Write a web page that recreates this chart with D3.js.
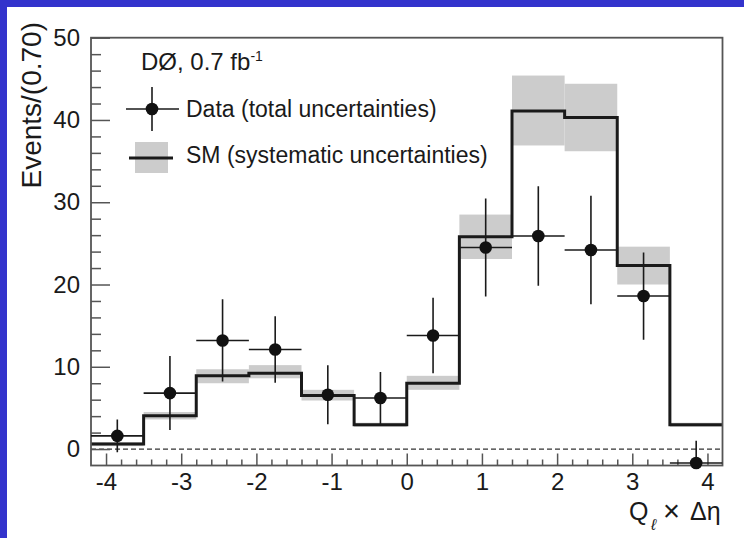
<!DOCTYPE html>
<html>
<head>
<meta charset="utf-8">
<script src="https://cdn.jsdelivr.net/npm/d3@7"></script>
<style>
  html, body { margin: 0; padding: 0; background: #fff; }
  svg { display: block; }
  text { font-family: "Liberation Sans", Arial, Helvetica, sans-serif; fill: #1a1a1a; }
</style>
</head>
<body>
<svg id="chart" width="744" height="538"></svg>
<script>
// Bin centres of Q_l x Δη (bin width 0.70, from -4.2 to 4.2)
const binCenters = [-3.85, -3.15, -2.45, -1.75, -1.05, -0.35, 0.35, 1.05, 1.75, 2.45, 3.15, 3.85];
const binWidth = 0.7;

// SM prediction and its systematic band
const smValues = [0.6, 4.05, 8.9, 9.2, 6.5, 2.95, 8.0, 25.8, 41.1, 40.3, 22.3, 2.95];
const smLow    = [0.35, 3.6, 8.0, 8.6, 5.9, 2.7, 7.2, 23.1, 36.9, 36.2, 20.0, 2.7];
const smHigh   = [0.85, 4.5, 9.7, 10.2, 7.2, 3.2, 8.9, 28.5, 45.4, 44.4, 24.6, 3.2];

// Data with total uncertainties
const dataValues = [1.6, 6.8, 13.2, 12.1, 6.6, 6.2, 13.8, 24.5, 25.9, 24.2, 18.6, -1.7];
const dataErrors = [2.0, 4.5, 5.0, 4.05, 3.6, 3.15, 4.6, 5.95, 6.05, 6.6, 5.3, 2.7];

// Axis ticks
const xMajorTicks = [-4, -3, -2, -1, 0, 1, 2, 3, 4];
const yMajorTicks = [0, 10, 20, 30, 40, 50];

const svg = d3.select("#chart");

// Page frame strips
svg.append("rect").attr("x", 0).attr("y", 0).attr("width", 744).attr("height", 7).attr("fill", "#3333cc");
svg.append("rect").attr("x", 0).attr("y", 0).attr("width", 7).attr("height", 538).attr("fill", "#3333cc");

const plotL = 91, plotR = 722.5, plotT = 37.7, plotB = 465.5;
const x = d3.scaleLinear().domain([-4.2, 4.2]).range([plotL, plotR]);
const y = d3.scaleLinear().domain([-2, 50]).range([plotB, plotT]);

svg.append("defs").append("clipPath").attr("id", "plotClip")
  .append("rect").attr("x", plotL).attr("y", plotT).attr("width", plotR - plotL).attr("height", plotB - plotT);

const bins = binCenters.map((c, i) => ({
  x0: c - binWidth / 2, x1: c + binWidth / 2, c,
  sm: smValues[i], lo: smLow[i], hi: smHigh[i],
  d: dataValues[i], e: dataErrors[i]
}));

// Systematic uncertainty band
svg.append("g").selectAll("rect").data(bins).join("rect")
  .attr("x", b => x(b.x0)).attr("width", b => x(b.x1) - x(b.x0))
  .attr("y", b => y(b.hi)).attr("height", b => y(b.lo) - y(b.hi))
  .attr("fill", "#cccccc");

// SM histogram outline
const stepPts = [];
bins.forEach(b => { stepPts.push([b.x0, b.sm]); stepPts.push([b.x1, b.sm]); });
svg.append("path")
  .attr("d", d3.line().x(p => x(p[0])).y(p => y(p[1]))(stepPts))
  .attr("fill", "none").attr("stroke", "#1a1a1a").attr("stroke-width", 3);

// Zero line
svg.append("line")
  .attr("x1", plotL).attr("x2", plotR).attr("y1", y(0)).attr("y2", y(0))
  .attr("stroke", "#333").attr("stroke-width", 1.2).attr("stroke-dasharray", "5,3");

// Frame
svg.append("rect").attr("x", plotL).attr("y", plotT).attr("width", plotR - plotL).attr("height", plotB - plotT)
  .attr("fill", "none").attr("stroke", "#555").attr("stroke-width", 1.8);

// Y axis (ticks pointing into the plot)
const yMinor = d3.range(-2, 50.01, 2).filter(v => !yMajorTicks.includes(v) && v > -2);
const yAx = svg.append("g").attr("transform", `translate(${plotL},0)`)
  .call(d3.axisLeft(y).tickValues(yMajorTicks).tickSizeInner(-19).tickSizeOuter(0).tickPadding(11).tickFormat(d3.format("d")));
const yAxMinor = svg.append("g").attr("transform", `translate(${plotL},0)`)
  .call(d3.axisLeft(y).tickValues(yMinor).tickSizeInner(-10).tickSizeOuter(0).tickFormat(""));

// X axis
const xMinor = d3.range(-41, 42, 2).map(v => v / 10 + 0.1)
  .map(v => Math.round(v * 10) / 10)
  .filter(v => !xMajorTicks.includes(v) && Math.abs(v) < 4.19);
const xAx = svg.append("g").attr("transform", `translate(0,${plotB})`)
  .call(d3.axisBottom(x).tickValues(xMajorTicks).tickSizeInner(-12).tickSizeOuter(0).tickPadding(7.5).tickFormat(d3.format("d")));
const xAxMinor = svg.append("g").attr("transform", `translate(0,${plotB})`)
  .call(d3.axisBottom(x).tickValues(xMinor).tickSizeInner(-6).tickSizeOuter(0).tickFormat(""));

[yAx, yAxMinor, xAx, xAxMinor].forEach(g => {
  g.select(".domain").remove();
  g.selectAll(".tick line").attr("stroke", "#555").attr("stroke-width", 1.5);
  g.selectAll(".tick text").attr("font-size", 24).attr("fill", "#1a1a1a")
    .attr("font-family", "'Liberation Sans', Arial, Helvetica, sans-serif");
});
xAx.selectAll(".tick text").text(d => d < 0 ? "-" + Math.abs(d) : String(d));

// Data error bars and markers
const dataG = svg.append("g");
const errG = dataG.append("g").attr("clip-path", "url(#plotClip)")
  .attr("stroke", "#1a1a1a").attr("stroke-width", 1.6);
errG.selectAll("line.v").data(bins).join("line").attr("class", "v")
  .attr("x1", b => x(b.c)).attr("x2", b => x(b.c))
  .attr("y1", b => y(b.d + b.e)).attr("y2", b => y(b.d - b.e));
errG.selectAll("line.h").data(bins).join("line").attr("class", "h")
  .attr("x1", b => x(b.x0)).attr("x2", b => x(b.x1))
  .attr("y1", b => y(b.d)).attr("y2", b => y(b.d));
dataG.selectAll("circle").data(bins).join("circle")
  .attr("cx", b => x(b.c)).attr("cy", b => y(b.d)).attr("r", 6.3).attr("fill", "#111");

// Legend
const leg = svg.append("g");
const dz = leg.append("text").attr("x", 141).attr("y", 70).attr("font-size", 24);
dz.append("tspan").text("DØ, 0.7 fb");
dz.append("tspan").attr("font-size", 14).attr("dy", -9).text("-1");

leg.append("line").attr("x1", 126).attr("x2", 179).attr("y1", 109).attr("y2", 109).attr("stroke", "#1a1a1a").attr("stroke-width", 1.6);
leg.append("line").attr("x1", 152).attr("x2", 152).attr("y1", 87).attr("y2", 131).attr("stroke", "#1a1a1a").attr("stroke-width", 1.6);
leg.append("circle").attr("cx", 152).attr("cy", 109).attr("r", 6.3).attr("fill", "#111");
leg.append("text").attr("x", 186).attr("y", 117).attr("font-size", 23).text("Data (total uncertainties)");

leg.append("rect").attr("x", 135).attr("y", 142).attr("width", 33).attr("height", 31).attr("fill", "#cccccc");
leg.append("line").attr("x1", 129).attr("x2", 173).attr("y1", 158).attr("y2", 158).attr("stroke", "#1a1a1a").attr("stroke-width", 3);
leg.append("text").attr("x", 186).attr("y", 163).attr("font-size", 23).text("SM (systematic uncertainties)");

// Axis titles
svg.append("text")
  .attr("transform", "translate(41,22) rotate(-90)")
  .attr("text-anchor", "end").attr("font-size", 28)
  .text("Events/(0.70)");

const xt = svg.append("g").attr("font-size", 25);
xt.append("text").attr("x", 629).attr("y", 520).text("Q");
xt.append("text").attr("x", 651).attr("y", 530).attr("font-size", 16).attr("font-style", "italic").text("ℓ");
xt.append("text").attr("x", 663).attr("y", 521).attr("font-size", 29).text("×");
xt.append("text").attr("x", 690).attr("y", 520).text("Δη");
</script>
</body>
</html>
